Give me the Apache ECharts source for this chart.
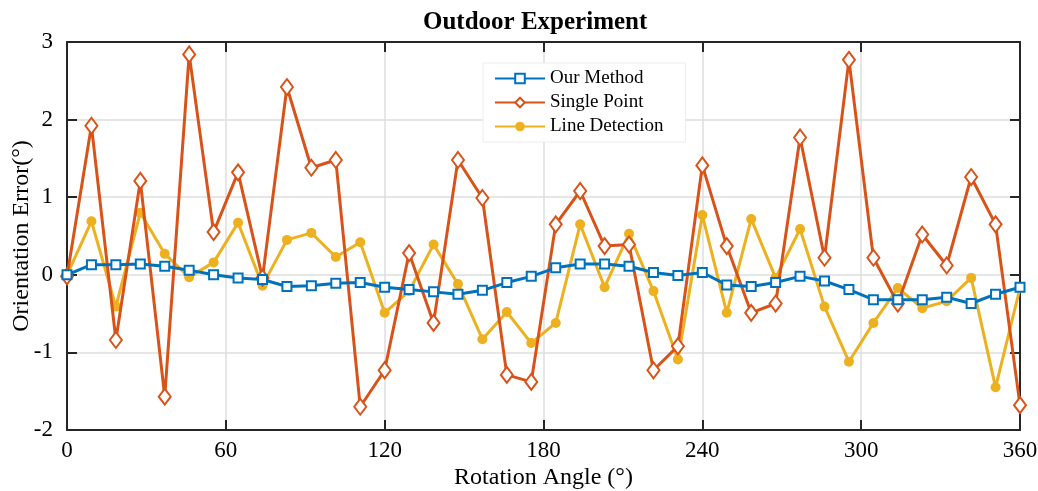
<!DOCTYPE html>
<html>
<head>
<meta charset="utf-8">
<script src="https://cdn.jsdelivr.net/npm/echarts@6/dist/echarts.min.js"></script>
<style>html,body{margin:0;padding:0;background:#fff}#c{width:1038px;height:491px}</style>
</head>
<body>
<div id="c"></div>
<script>
const angles = [0, 9.23, 18.46, 27.69, 36.92, 46.15, 55.38, 64.62, 73.85, 83.08, 92.31, 101.54, 110.77, 120, 129.23, 138.46, 147.69, 156.92, 166.15, 175.38, 184.62, 193.85, 203.08, 212.31, 221.54, 230.77, 240, 249.23, 258.46, 267.69, 276.92, 286.15, 295.38, 304.62, 313.85, 323.08, 332.31, 341.54, 350.77, 360];
const ourMethod = [0, 0.13, 0.13, 0.14, 0.11, 0.06, 0.0, -0.04, -0.06, -0.15, -0.14, -0.11, -0.10, -0.16, -0.19, -0.22, -0.25, -0.20, -0.10, -0.02, 0.09, 0.14, 0.14, 0.11, 0.03, -0.01, 0.03, -0.13, -0.15, -0.10, -0.02, -0.08, -0.19, -0.32, -0.32, -0.32, -0.29, -0.37, -0.25, -0.16];
const singlePoint = [-0.02, 1.92, -0.84, 1.21, -1.57, 2.84, 0.55, 1.32, -0.04, 2.42, 1.38, 1.48, -1.70, -1.23, 0.28, -0.62, 1.48, 0.99, -1.29, -1.38, 0.65, 1.08, 0.37, 0.39, -1.23, -0.92, 1.41, 0.37, -0.49, -0.37, 1.77, 0.22, 2.77, 0.22, -0.37, 0.52, 0.12, 1.26, 0.65, -1.68];
const lineDetection = [0, 0.69, -0.41, 0.80, 0.27, -0.03, 0.16, 0.67, -0.14, 0.45, 0.54, 0.23, 0.42, -0.49, -0.21, 0.39, -0.12, -0.83, -0.48, -0.88, -0.62, 0.65, -0.16, 0.53, -0.21, -1.09, 0.77, -0.49, 0.72, -0.04, 0.59, -0.41, -1.12, -0.62, -0.17, -0.43, -0.34, -0.04, -1.45, -0.17];
const seriesNames = ['Our Method', 'Single Point', 'Line Detection'];

const pair = arr => arr.map((v, i) => [angles[i], v]);
const serif = 'Liberation Serif';
const frame = '#262626';

const chart = echarts.init(document.getElementById('c'), null, {renderer: 'canvas'});
chart.setOption({
  animation: false,
  backgroundColor: '#fff',
  title: {
    text: 'Outdoor Experiment', left: 418, top: 5,
    textStyle: {fontFamily: serif, fontSize: 25, fontWeight: 'bold', color: '#000'}
  },
  grid: {left: 67, right: 18, top: 42, bottom: 61, containLabel: false, outerBoundsMode: 'none'},
  legend: {
    orient: 'vertical', left: 483, top: 63,
    itemWidth: 50, itemHeight: 12, itemGap: 5,
    padding: [6, 22, 6, 11],
    backgroundColor: '#fff', borderColor: '#ececec', borderWidth: 1,
    textStyle: {fontFamily: serif, fontSize: 19, color: '#000'},
    data: seriesNames
  },
  xAxis: [{
    type: 'value', min: 0, max: 360, interval: 60, position: 'bottom',
    name: 'Rotation Angle (°)', nameLocation: 'middle', nameGap: 36, nameMoveOverlap: false,
    nameTextStyle: {fontFamily: serif, fontSize: 24, color: '#000'},
    axisLine: {show: true, onZero: false, lineStyle: {color: frame, width: 2}},
    axisTick: {show: true, inside: true, length: 10, lineStyle: {color: frame, width: 2}},
    axisLabel: {fontFamily: serif, fontSize: 23, color: '#000', margin: 9},
    splitLine: {show: true, lineStyle: {color: '#dedede', width: 1.5}}
  }, {
    type: 'value', min: 0, max: 360, interval: 60, position: 'top',
    axisLine: {show: true, onZero: false, lineStyle: {color: frame, width: 2}},
    axisTick: {show: true, inside: true, length: 10, lineStyle: {color: frame, width: 2}},
    axisLabel: {show: false}, splitLine: {show: false}
  }],
  yAxis: [{
    type: 'value', min: -2, max: 3, interval: 1, position: 'left',
    name: 'Orientation Error(°)', nameLocation: 'middle', nameGap: 33, nameRotate: 90, nameMoveOverlap: false,
    nameTextStyle: {fontFamily: serif, fontSize: 24, color: '#000'},
    axisLine: {show: true, onZero: false, lineStyle: {color: frame, width: 2}},
    axisTick: {show: true, inside: true, length: 10, lineStyle: {color: frame, width: 2}},
    axisLabel: {fontFamily: serif, fontSize: 23, color: '#000', margin: 14},
    splitLine: {show: true, lineStyle: {color: '#dedede', width: 1.5}}
  }, {
    type: 'value', min: -2, max: 3, interval: 1, position: 'right',
    axisLine: {show: true, onZero: false, lineStyle: {color: frame, width: 2}},
    axisTick: {show: true, inside: true, length: 10, lineStyle: {color: frame, width: 2}},
    axisLabel: {show: false}, splitLine: {show: false}
  }],
  series: [{
    name: seriesNames[0], type: 'line', data: pair(ourMethod),
    symbol: 'emptyRect', symbolSize: 9, z: 4,
    lineStyle: {color: '#0072BD', width: 3},
    itemStyle: {color: '#0072BD', borderWidth: 2.2}
  }, {
    name: seriesNames[1], type: 'line', data: pair(singlePoint),
    symbol: 'emptyDiamond', symbolSize: [12, 16], z: 3,
    lineStyle: {color: '#D95319', width: 3},
    itemStyle: {color: '#D95319', borderWidth: 2.2}
  }, {
    name: seriesNames[2], type: 'line', data: pair(lineDetection),
    symbol: 'circle', symbolSize: 10, z: 2,
    lineStyle: {color: '#EDB120', width: 3},
    itemStyle: {color: '#EDB120'}
  }]
});
</script>
</body>
</html>
